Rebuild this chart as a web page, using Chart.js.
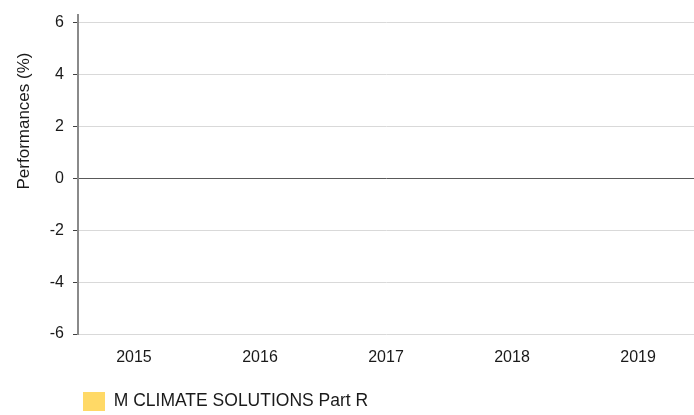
<!DOCTYPE html>
<html>
<head>
<meta charset="utf-8">
<script src="https://cdn.jsdelivr.net/npm/chart.js@4"></script>
<style>
  html, body { margin: 0; padding: 0; background: #fff; }
  #wrap { width: 694px; height: 415px; }
</style>
</head>
<body>
<div id="wrap"><canvas id="myChart" width="694" height="415"></canvas></div>
<script>
// categories and series (the fund has no yearly values yet)
const categories = [2015, 2016, 2017, 2018, 2019]
const tickLabels = ['2015', '2016', '2017', '2018', '2019']
const partR = [null, null, null, null, null]
const seriesName = 'M CLIMATE SOLUTIONS Part R'
const yTicks = [-6, -4, -2, 0, 2, 4, 6]
const yTitle = 'Performances (%)'

const FONT = "'Liberation Sans', Arial, sans-serif"

// axis title is drawn a bit above the middle, like the original
const titlePlugin = {
  id: 'sideTitle',
  afterDraw(chart) {
    const c = chart.ctx
    c.save()
    c.translate(29, 121)
    c.rotate(-Math.PI / 2)
    c.font = `17px ${FONT}`
    c.fillStyle = '#1a1a1a'
    c.textAlign = 'center'
    c.textBaseline = 'alphabetic'
    c.fillText(yTitle, 0, 0)
    c.restore()
  }
}

// move the legend under the plot, in line with the axis
const legendPlugin = {
  id: 'legendPos',
  afterLayout(chart) {
    const pad = chart.options.plugins.legend.labels.padding
    chart.legend.left = 83 - pad
    chart.legend.top = 392 - pad
  }
}

const ctx = document.getElementById('myChart').getContext('2d')

const myChart = new Chart(ctx, {
  type: 'bar',
  data: {
    datasets: [{
      label: seriesName,
      data: categories.map((c, i) => ({ x: c, y: partR[i] })),
      backgroundColor: '#ffd966',
      borderWidth: 0
    }]
  },
  options: {
    responsive: false,
    animation: false,
    layout: { padding: { top: 15, right: 0, left: 0, bottom: 0 } },
    scales: {
      x: {
        type: 'linear',
        offset: false,
        min: categories[0] - 0.444,
        max: categories[categories.length - 1] + 0.444,
        grid: { display: false, drawTicks: false },
        border: { display: false },
        afterBuildTicks: scale => { scale.ticks = categories.map(v => ({ value: v })) },
        afterFit: scale => { scale.height = 42; scale.paddingLeft = 0; scale.paddingRight = 0 },
        ticks: {
          padding: 14,
          color: '#1a1a1a',
          font: { family: FONT, size: 16 },
          callback: v => tickLabels[categories.indexOf(v)] ?? ''
        }
      },
      y: {
        min: -6,
        max: 6.3,
        afterBuildTicks: scale => { scale.ticks = yTicks.map(v => ({ value: v })) },
        afterFit: scale => { scale.width = 78; scale.paddingTop = 0; scale.paddingBottom = 0 },
        grid: {
          color: c => c.tick && c.tick.value === 0 ? '#595959' : '#d9d9d9',
          lineWidth: 1,
          tickLength: 5,
          tickColor: '#404040'
        },
        border: { color: '#8a8a8a', width: 2 },
        ticks: {
          padding: 9,
          color: '#1a1a1a',
          font: { family: FONT, size: 16 }
        }
      }
    },
    plugins: {
      legend: {
        position: 'bottom',
        align: 'start',
        labels: {
          boxWidth: 22,
          boxHeight: 19,
          padding: 10,
          color: '#1a1a1a',
          font: { family: FONT, size: 17.5 }
        }
      },
      tooltip: { enabled: false }
    }
  },
  plugins: [titlePlugin, legendPlugin]
})
</script>
</body>
</html>
